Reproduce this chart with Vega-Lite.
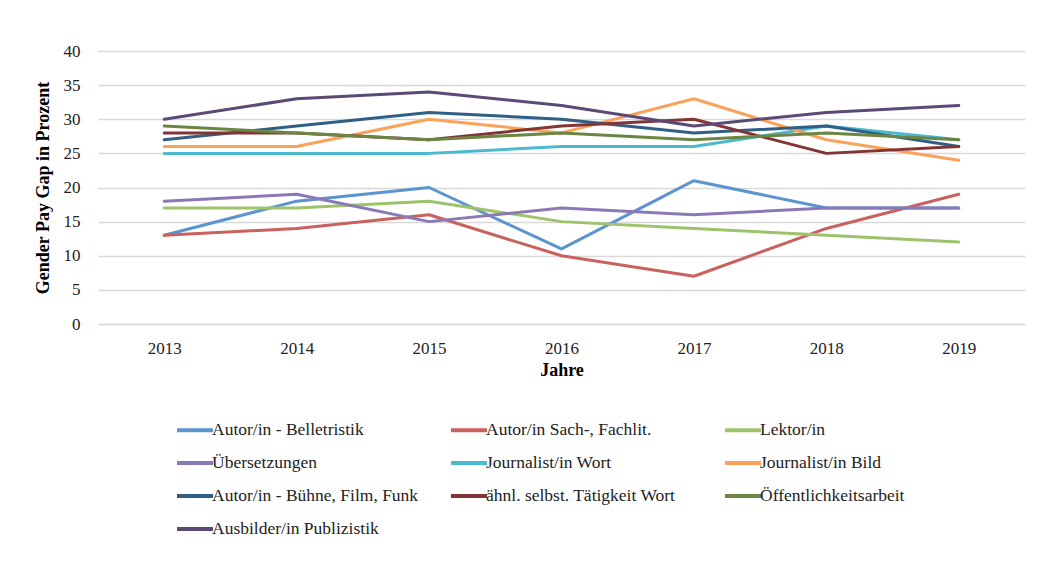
{
  "$schema": "https://vega.github.io/schema/vega-lite/v6.json",
  "autosize": "none",
  "width": 927,
  "height": 273,
  "padding": {"left": 98, "top": 51, "right": 13, "bottom": 249},
  "background": "white",
  "config": {
    "font": "Liberation Serif",
    "view": {"stroke": null}
  },
  "datasets": {
    "gpg": [
      {"Jahr": "2013", "Beruf": "Autor/in - Belletristik", "Wert": 13},
      {"Jahr": "2014", "Beruf": "Autor/in - Belletristik", "Wert": 18},
      {"Jahr": "2015", "Beruf": "Autor/in - Belletristik", "Wert": 20},
      {"Jahr": "2016", "Beruf": "Autor/in - Belletristik", "Wert": 11},
      {"Jahr": "2017", "Beruf": "Autor/in - Belletristik", "Wert": 21},
      {"Jahr": "2018", "Beruf": "Autor/in - Belletristik", "Wert": 17},
      {"Jahr": "2019", "Beruf": "Autor/in - Belletristik", "Wert": 17},
      {"Jahr": "2013", "Beruf": "Autor/in Sach-, Fachlit.", "Wert": 13},
      {"Jahr": "2014", "Beruf": "Autor/in Sach-, Fachlit.", "Wert": 14},
      {"Jahr": "2015", "Beruf": "Autor/in Sach-, Fachlit.", "Wert": 16},
      {"Jahr": "2016", "Beruf": "Autor/in Sach-, Fachlit.", "Wert": 10},
      {"Jahr": "2017", "Beruf": "Autor/in Sach-, Fachlit.", "Wert": 7},
      {"Jahr": "2018", "Beruf": "Autor/in Sach-, Fachlit.", "Wert": 14},
      {"Jahr": "2019", "Beruf": "Autor/in Sach-, Fachlit.", "Wert": 19},
      {"Jahr": "2013", "Beruf": "Lektor/in", "Wert": 17},
      {"Jahr": "2014", "Beruf": "Lektor/in", "Wert": 17},
      {"Jahr": "2015", "Beruf": "Lektor/in", "Wert": 18},
      {"Jahr": "2016", "Beruf": "Lektor/in", "Wert": 15},
      {"Jahr": "2017", "Beruf": "Lektor/in", "Wert": 14},
      {"Jahr": "2018", "Beruf": "Lektor/in", "Wert": 13},
      {"Jahr": "2019", "Beruf": "Lektor/in", "Wert": 12},
      {"Jahr": "2013", "Beruf": " Übersetzungen", "Wert": 18},
      {"Jahr": "2014", "Beruf": " Übersetzungen", "Wert": 19},
      {"Jahr": "2015", "Beruf": " Übersetzungen", "Wert": 15},
      {"Jahr": "2016", "Beruf": " Übersetzungen", "Wert": 17},
      {"Jahr": "2017", "Beruf": " Übersetzungen", "Wert": 16},
      {"Jahr": "2018", "Beruf": " Übersetzungen", "Wert": 17},
      {"Jahr": "2019", "Beruf": " Übersetzungen", "Wert": 17},
      {"Jahr": "2013", "Beruf": "Journalist/in Wort", "Wert": 25},
      {"Jahr": "2014", "Beruf": "Journalist/in Wort", "Wert": 25},
      {"Jahr": "2015", "Beruf": "Journalist/in Wort", "Wert": 25},
      {"Jahr": "2016", "Beruf": "Journalist/in Wort", "Wert": 26},
      {"Jahr": "2017", "Beruf": "Journalist/in Wort", "Wert": 26},
      {"Jahr": "2018", "Beruf": "Journalist/in Wort", "Wert": 29},
      {"Jahr": "2019", "Beruf": "Journalist/in Wort", "Wert": 27},
      {"Jahr": "2013", "Beruf": "Journalist/in Bild", "Wert": 26},
      {"Jahr": "2014", "Beruf": "Journalist/in Bild", "Wert": 26},
      {"Jahr": "2015", "Beruf": "Journalist/in Bild", "Wert": 30},
      {"Jahr": "2016", "Beruf": "Journalist/in Bild", "Wert": 28},
      {"Jahr": "2017", "Beruf": "Journalist/in Bild", "Wert": 33},
      {"Jahr": "2018", "Beruf": "Journalist/in Bild", "Wert": 27},
      {"Jahr": "2019", "Beruf": "Journalist/in Bild", "Wert": 24},
      {"Jahr": "2013", "Beruf": "Autor/in - Bühne, Film, Funk", "Wert": 27},
      {"Jahr": "2014", "Beruf": "Autor/in - Bühne, Film, Funk", "Wert": 29},
      {"Jahr": "2015", "Beruf": "Autor/in - Bühne, Film, Funk", "Wert": 31},
      {"Jahr": "2016", "Beruf": "Autor/in - Bühne, Film, Funk", "Wert": 30},
      {"Jahr": "2017", "Beruf": "Autor/in - Bühne, Film, Funk", "Wert": 28},
      {"Jahr": "2018", "Beruf": "Autor/in - Bühne, Film, Funk", "Wert": 29},
      {"Jahr": "2019", "Beruf": "Autor/in - Bühne, Film, Funk", "Wert": 26},
      {"Jahr": "2013", "Beruf": "ähnl. selbst. Tätigkeit Wort", "Wert": 28},
      {"Jahr": "2014", "Beruf": "ähnl. selbst. Tätigkeit Wort", "Wert": 28},
      {"Jahr": "2015", "Beruf": "ähnl. selbst. Tätigkeit Wort", "Wert": 27},
      {"Jahr": "2016", "Beruf": "ähnl. selbst. Tätigkeit Wort", "Wert": 29},
      {"Jahr": "2017", "Beruf": "ähnl. selbst. Tätigkeit Wort", "Wert": 30},
      {"Jahr": "2018", "Beruf": "ähnl. selbst. Tätigkeit Wort", "Wert": 25},
      {"Jahr": "2019", "Beruf": "ähnl. selbst. Tätigkeit Wort", "Wert": 26},
      {"Jahr": "2013", "Beruf": " Öffentlichkeitsarbeit", "Wert": 29},
      {"Jahr": "2014", "Beruf": " Öffentlichkeitsarbeit", "Wert": 28},
      {"Jahr": "2015", "Beruf": " Öffentlichkeitsarbeit", "Wert": 27},
      {"Jahr": "2016", "Beruf": " Öffentlichkeitsarbeit", "Wert": 28},
      {"Jahr": "2017", "Beruf": " Öffentlichkeitsarbeit", "Wert": 27},
      {"Jahr": "2018", "Beruf": " Öffentlichkeitsarbeit", "Wert": 28},
      {"Jahr": "2019", "Beruf": " Öffentlichkeitsarbeit", "Wert": 27},
      {"Jahr": "2013", "Beruf": "Ausbilder/in Publizistik", "Wert": 30},
      {"Jahr": "2014", "Beruf": "Ausbilder/in Publizistik", "Wert": 33},
      {"Jahr": "2015", "Beruf": "Ausbilder/in Publizistik", "Wert": 34},
      {"Jahr": "2016", "Beruf": "Ausbilder/in Publizistik", "Wert": 32},
      {"Jahr": "2017", "Beruf": "Ausbilder/in Publizistik", "Wert": 29},
      {"Jahr": "2018", "Beruf": "Ausbilder/in Publizistik", "Wert": 31},
      {"Jahr": "2019", "Beruf": "Ausbilder/in Publizistik", "Wert": 32}
    ]
  },
  "data": {"name": "gpg"},
  "mark": {"type": "line", "strokeWidth": 3, "strokeCap": "round", "strokeJoin": "round"},
  "encoding": {
    "x": {
      "field": "Jahr",
      "type": "ordinal",
      "scale": {"type": "point", "padding": 0.5},
      "axis": {
        "title": "Jahre",
        "titleFont": "Liberation Serif",
        "titleFontSize": 18,
        "titleFontWeight": "bold",
        "titleColor": "#000000",
        "titlePadding": 5,
        "labelAngle": 0,
        "labelFontSize": 17,
        "labelColor": "#222222",
        "labelPadding": 16,
        "ticks": false,
        "domain": true,
        "domainColor": "#D9D9D9",
        "domainWidth": 1.5,
        "grid": false
      }
    },
    "y": {
      "field": "Wert",
      "type": "quantitative",
      "scale": {"domain": [0, 40], "nice": false},
      "axis": {
        "title": "Gender Pay Gap in Prozent",
        "titleFont": "Liberation Serif",
        "titleFontSize": 18,
        "titleFontWeight": "bold",
        "titleColor": "#000000",
        "titlePadding": 11,
        "values": [0, 5, 10, 15, 20, 25, 30, 35, 40],
        "labelFontSize": 17,
        "labelColor": "#222222",
        "labelPadding": 18,
        "ticks": false,
        "domain": false,
        "grid": true,
        "gridColor": "#D9D9D9",
        "gridWidth": 1.5
      }
    },
    "color": {
      "field": "Beruf",
      "type": "nominal",
      "sort": null,
      "scale": {
        "domain": ["Autor/in - Belletristik", "Autor/in Sach-, Fachlit.", "Lektor/in", " Übersetzungen", "Journalist/in Wort", "Journalist/in Bild", "Autor/in - Bühne, Film, Funk", "ähnl. selbst. Tätigkeit Wort", " Öffentlichkeitsarbeit", "Ausbilder/in Publizistik"],
        "range": ["#5B94CF", "#C9625E", "#9DC36B", "#8B78B6", "#4BB9CF", "#F9A25A", "#2F5F85", "#833535", "#6B8543", "#5A4A75"]
      },
      "legend": {
        "title": null,
        "orient": "none",
        "legendX": 77,
        "legendY": 359,
        "direction": "horizontal",
        "columns": 3,
        "gridAlign": "all",
        "columnPadding": 24,
        "rowPadding": 4,
        "padding": 0,
        "symbolType": "stroke",
        "symbolSize": 1296,
        "symbolStrokeWidth": 4,
        "labelFont": "Liberation Serif",
        "labelFontSize": 17.5,
        "labelColor": "#222222",
        "labelOffset": -3,
        "labelLimit": 300
      }
    }
  }
}
